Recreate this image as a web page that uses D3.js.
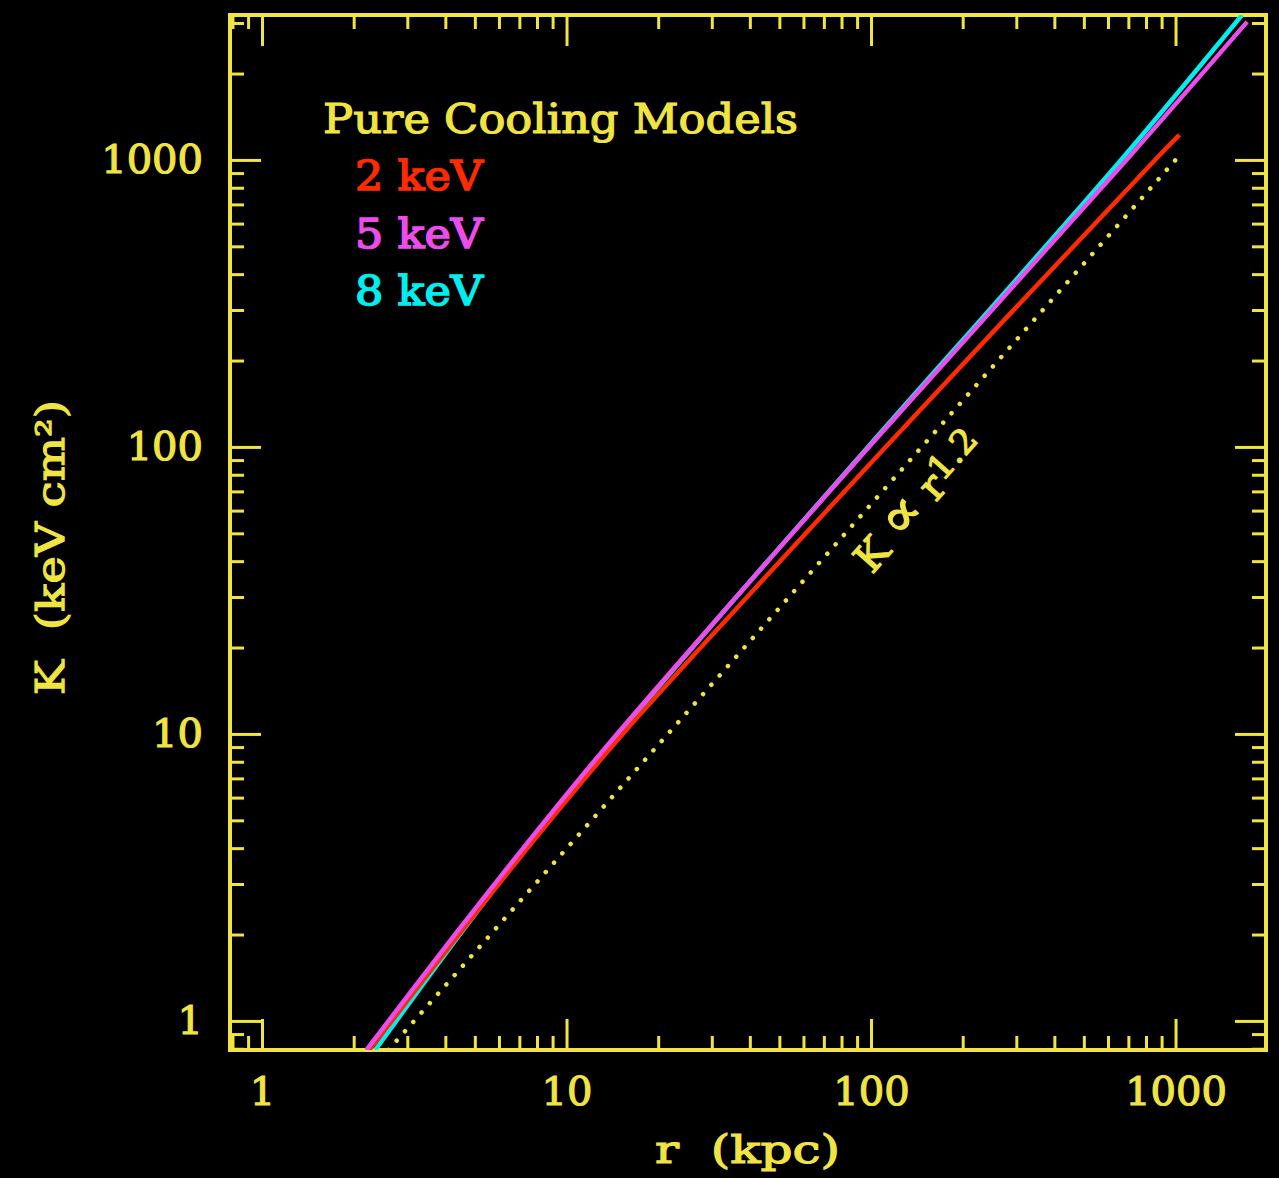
<!DOCTYPE html>
<html lang="en">
<head>
<meta charset="UTF-8">
<title>Pure Cooling Models - entropy profiles</title>
<style>
  body {
    margin: 0;
    background-color: #000;
  }
  .chart text {
    font-family: "DejaVu Serif", serif;
    fill: #f0e442;
    stroke: #f0e442;
    stroke-width: 1.2px;
  }
</style>
</head>
<body>
<svg class="chart"></svg>

<script src="https://cdnjs.cloudflare.com/ajax/libs/d3/7.8.5/d3.min.js"></script>
<script>
// values: r in kpc, K in keV cm^2
var r2keV = [2.25, 4.48, 8.83, 15.3, 39.2, 111.7, 856, 1030];
var k2keV = [0.792, 2.03, 5, 10, 30, 100, 1000, 1222];

var r5keV = [2.20, 4.35, 8.53, 14.65, 36.1, 98.4, 690, 1718];
var k5keV = [0.792, 2.03, 5, 10, 30, 100, 1000, 3027];

var r8keV = [2.355, 4.51, 8.67, 14.8, 36.1, 97.7, 662, 1653];
var k8keV = [0.792, 2.03, 5, 10, 30, 100, 1000, 3200];

// K ∝ r^1.2 reference line, end points
var rRef = [2.6, 1000];
var kRef = [0.792, 1000];

var seriesNames = ["2 keV", "5 keV", "8 keV"];
var seriesColors = ["#ff2a00", "#ec4cec", "#00eeee"];

var xTicks = [1, 10, 100, 1000];
var xTickLabels = ["1", "10", "100", "1000"];
var yTicks = [1, 10, 100, 1000];
var yTickLabels = ["1", "10", "100", "1000"];
var minorMult = [2, 3, 4, 5, 6, 7, 8, 9];

var totalWidth = 1279,
  totalHeight = 1178;
var box = { left: 230, right: 1266, top: 15, bottom: 1050 };
var yellow = "#f0e442";

var svg = d3.select(".chart")
  .attr("width", totalWidth)
  .attr("height", totalHeight)
  .style("background", "#000");

var x = d3.scaleLog()
  .domain([0.785, 1982])
  .range([box.left, box.right]);

var y = d3.scaleLog()
  .domain([0.792, 3199])
  .range([box.bottom, box.top]);

function minorTicks(domain) {
  var out = [];
  [0.1, 1, 10, 100, 1000].forEach(function(dec) {
    minorMult.forEach(function(m) {
      var v = dec * m;
      if (v > domain[0] && v < domain[1]) out.push(v);
    });
  });
  return out;
}

// inward ticks on all four sides
function drawTicks(axisFn, scale, values, size, transform) {
  var g = svg.append("g")
    .attr("transform", transform)
    .call(axisFn(scale).tickValues(values).tickSize(size).tickSizeOuter(0).tickFormat(""));
  g.select(".domain").remove();
  g.selectAll("line").attr("stroke", yellow).attr("stroke-width", 3);
}

var xMinor = minorTicks(x.domain());
var yMinor = minorTicks(y.domain());

drawTicks(d3.axisBottom, x, xTicks, 31, "translate(0," + box.top + ")");
drawTicks(d3.axisBottom, x, xMinor, 14, "translate(0," + box.top + ")");
drawTicks(d3.axisTop, x, xTicks, 31, "translate(0," + box.bottom + ")");
drawTicks(d3.axisTop, x, xMinor, 14, "translate(0," + box.bottom + ")");
drawTicks(d3.axisRight, y, yTicks, 31, "translate(" + box.left + ",0)");
drawTicks(d3.axisRight, y, yMinor, 14, "translate(" + box.left + ",0)");
drawTicks(d3.axisLeft, y, yTicks, 31, "translate(" + box.right + ",0)");
drawTicks(d3.axisLeft, y, yMinor, 14, "translate(" + box.right + ",0)");

// tick labels
var xLab = svg.append("g")
  .attr("transform", "translate(0," + box.bottom + ")")
  .call(d3.axisBottom(x).tickValues(xTicks).tickSize(0).tickPadding(27)
    .tickFormat(function(d, i) { return xTickLabels[i]; }));
xLab.select(".domain").remove();
xLab.selectAll("text").style("font-size", "40px").attr("fill", yellow);

var yLab = svg.append("g")
  .attr("transform", "translate(" + box.left + ",0)")
  .call(d3.axisLeft(y).tickValues(yTicks).tickSize(0).tickPadding(27)
    .tickFormat(function(d, i) { return yTickLabels[i]; }));
yLab.select(".domain").remove();
yLab.selectAll("text").style("font-size", "40px").attr("fill", yellow);

// frame
svg.append("rect")
  .attr("x", box.left)
  .attr("y", box.top)
  .attr("width", box.right - box.left)
  .attr("height", box.bottom - box.top)
  .attr("fill", "none")
  .attr("stroke", yellow)
  .attr("stroke-width", 4);

svg.append("clipPath")
  .attr("id", "plotclip")
  .append("rect")
  .attr("x", box.left)
  .attr("y", box.top)
  .attr("width", box.right - box.left)
  .attr("height", box.bottom - box.top);

var plot = svg.append("g").attr("clip-path", "url(#plotclip)");

function pairs(rs, ks) {
  return rs.map(function(r, i) { return [r, ks[i]]; });
}

var line = d3.line()
  .x(function(d) { return x(d[0]); })
  .y(function(d) { return y(d[1]); })
  .curve(d3.curveCatmullRom.alpha(0.5));

// dotted power law
plot.append("path")
  .datum(pairs(rRef, kRef))
  .attr("d", d3.line().x(function(d) { return x(d[0]); }).y(function(d) { return y(d[1]); }))
  .attr("fill", "none")
  .attr("stroke", yellow)
  .attr("stroke-width", 4.5)
  .attr("stroke-linecap", "round")
  .attr("stroke-dasharray", "0.1 12.4");

var series = [
  pairs(r2keV, k2keV),
  pairs(r5keV, k5keV),
  pairs(r8keV, k8keV)
];

// cyan under red under magenta
[2, 0, 1].forEach(function(i) {
  plot.append("path")
    .datum(series[i])
    .attr("d", line)
    .attr("fill", "none")
    .attr("stroke", seriesColors[i])
    .attr("stroke-width", 4.5);
});

// legend
svg.append("text")
  .attr("x", 323)
  .attr("y", 133)
  .attr("textLength", 475)
  .attr("lengthAdjust", "spacingAndGlyphs")
  .style("font-size", "41px")
  .text("Pure Cooling Models");

svg.selectAll(".legend")
  .data(seriesNames)
  .enter().append("text")
  .attr("class", "legend")
  .attr("x", 355)
  .attr("y", function(d, i) { return 190 + i * 57.5; })
  .attr("textLength", 128)
  .attr("lengthAdjust", "spacingAndGlyphs")
  .style("font-size", "41px")
  .style("fill", function(d, i) { return seriesColors[i]; })
  .style("stroke", function(d, i) { return seriesColors[i]; })
  .style("stroke-width", "1.6px")
  .text(function(d) { return d; });

// annotation along the dotted line
var angle = Math.atan2(y(kRef[1]) - y(kRef[0]), x(rRef[1]) - x(rRef[0])) * 180 / Math.PI;
var ann = svg.append("text")
  .attr("transform", "translate(" + x(155) + "," + y(60) + ") rotate(" + angle + ")")
  .attr("text-anchor", "middle")
  .attr("textLength", 172)
  .attr("lengthAdjust", "spacingAndGlyphs")
  .style("font-size", "40px");
ann.append("tspan").text("K ");
ann.append("tspan").style("font-size", "56px").text("\u221d");
ann.append("tspan").text(" r");
ann.append("tspan").attr("dy", "-0.25em").style("font-size", "34px").text("1.2");

// axis titles
svg.append("text")
  .attr("x", 655)
  .attr("y", 1163)
  .attr("textLength", 185)
  .attr("lengthAdjust", "spacingAndGlyphs")
  .style("font-size", "40px")
  .style("white-space", "pre")
  .text("r  (kpc)");

svg.append("text")
  .attr("transform", "translate(64,695) rotate(-90)")
  .attr("textLength", 295)
  .attr("lengthAdjust", "spacingAndGlyphs")
  .style("font-size", "40px")
  .style("white-space", "pre")
  .text("K  (keV cm\u00b2)");
</script>
</body>
</html>
